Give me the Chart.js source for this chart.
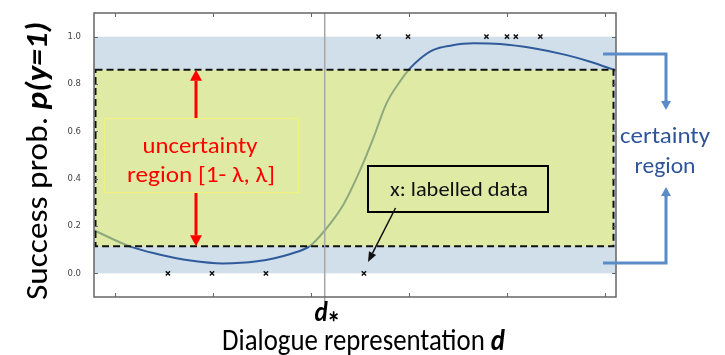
<!DOCTYPE html>
<html>
<head>
<meta charset="utf-8">
<script src="https://cdn.jsdelivr.net/npm/chart.js@4.4.1/dist/chart.umd.min.js"></script>
<style>
  html, body { margin: 0; padding: 0; background: #ffffff; }
  #wrap { width: 725px; height: 355px; position: relative; }
</style>
</head>
<body>
<div id="wrap"><canvas id="c" width="725" height="355"></canvas></div>
<script>
// ---- data ----
const curveX = [0.79, 1.15, 1.43, 1.77, 2.10, 2.45, 2.79, 2.99, 3.14, 3.33, 3.50, 3.64, 3.77, 3.91, 4.01, 4.11, 4.25, 4.42, 4.66, 4.93, 5.27, 5.61, 5.85, 6.11];
const curveY = [0.181, 0.114, 0.082, 0.054, 0.042, 0.051, 0.082, 0.116, 0.181, 0.29, 0.435, 0.576, 0.718, 0.812, 0.866, 0.906, 0.944, 0.962, 0.972, 0.969, 0.951, 0.922, 0.894, 0.857];
const labelledX = [1.54, 1.99, 2.54, 3.54, 3.69, 3.99, 4.79, 5.00, 5.09, 5.34];
const labelledY = [0, 0, 0, 0, 1, 1, 1, 1, 1, 1];
const xTicks = [1, 2, 3, 4, 5, 6];
const yTicks = [0.0, 0.2, 0.4, 0.6, 0.8, 1.0];
const xRange = [0.786, 6.112];
const yRange = [-0.1, 1.1];
const certaintyBand = [0.0, 1.0];
const lambdaHigh = 0.86;
const lambdaLow = 0.114;
const dStar = 3.14;

const FONT = 'Carlito, Lato, "Open Sans", sans-serif';

function arrow(ctx, x1, y1, x2, y2, color, width, headLen, headW) {
  const ang = Math.atan2(y2 - y1, x2 - x1);
  const bx = x2 - headLen * Math.cos(ang), by = y2 - headLen * Math.sin(ang);
  ctx.save();
  ctx.strokeStyle = color; ctx.fillStyle = color; ctx.lineWidth = width;
  ctx.beginPath(); ctx.moveTo(x1, y1); ctx.lineTo(bx, by); ctx.stroke();
  ctx.beginPath();
  ctx.moveTo(x2, y2);
  ctx.lineTo(bx + headW / 2 * Math.sin(ang), by - headW / 2 * Math.cos(ang));
  ctx.lineTo(bx - headW / 2 * Math.sin(ang), by + headW / 2 * Math.cos(ang));
  ctx.closePath(); ctx.fill();
  ctx.restore();
}

function runs(ctx, parts, cx, y, targetW) {
  let w = 0;
  parts.forEach(p => { ctx.font = p.f; w += ctx.measureText(p.t).width; });
  const s = targetW ? targetW / w : 1;
  ctx.save();
  ctx.translate(cx, y);
  ctx.scale(s, 1);
  let x = -w / 2;
  parts.forEach(p => {
    ctx.font = p.f; ctx.fillStyle = p.c || '#000';
    ctx.textBaseline = 'alphabetic'; ctx.textAlign = 'left';
    ctx.fillText(p.t, x, p.dy || 0);
    x += ctx.measureText(p.t).width;
  });
  ctx.restore();
}

const backdrop = {
  id: 'backdrop',
  beforeDatasetsDraw(chart) {
    const { ctx, chartArea: a, scales: { y } } = chart;
    ctx.save();
    ctx.fillStyle = '#d1dfea';
    const t = y.getPixelForValue(certaintyBand[1]), b = y.getPixelForValue(certaintyBand[0]);
    ctx.fillRect(a.left, t, a.right - a.left, b - t);
    ctx.restore();
  },
  afterDatasetsDraw(chart) {
    const { ctx, chartArea: a, scales: { x, y } } = chart;
    const t = y.getPixelForValue(lambdaHigh), b = y.getPixelForValue(lambdaLow);
    const l = a.left + 1.5, r = a.right - 2.5;
    ctx.save();
    ctx.fillStyle = 'rgba(237,247,96,0.5)';
    ctx.fillRect(l, t, r - l, b - t);
    ctx.strokeStyle = '#111'; ctx.lineWidth = 2; ctx.setLineDash([7, 4]);
    ctx.strokeRect(l, t, r - l, b - t);
    ctx.setLineDash([]);
    // d* line
    const dx = x.getPixelForValue(dStar);
    ctx.strokeStyle = '#a6a6a6'; ctx.lineWidth = 1.5;
    ctx.beginPath(); ctx.moveTo(dx, a.top); ctx.lineTo(dx, a.bottom + 5); ctx.stroke();
    // frame
    ctx.strokeStyle = '#666'; ctx.lineWidth = 1.5;
    ctx.strokeRect(a.left, a.top, a.right - a.left, a.bottom - a.top);
    // inward ticks
    ctx.lineWidth = 1; ctx.strokeStyle = '#666';
    xTicks.forEach(v => {
      const px = Math.round(x.getPixelForValue(v)) + 0.5;
      ctx.beginPath(); ctx.moveTo(px, a.bottom); ctx.lineTo(px, a.bottom - 4);
      ctx.moveTo(px, a.top); ctx.lineTo(px, a.top + 4); ctx.stroke();
    });
    yTicks.forEach(v => {
      const py = Math.round(y.getPixelForValue(v)) + 0.5;
      ctx.beginPath(); ctx.moveTo(a.left, py); ctx.lineTo(a.left + 4, py);
      ctx.moveTo(a.right, py); ctx.lineTo(a.right - 4, py); ctx.stroke();
    });
    ctx.restore();
  },
  afterDraw(chart) {
    const { ctx, scales: { x, y } } = chart;
    const yHi = y.getPixelForValue(lambdaHigh), yLo = y.getPixelForValue(lambdaLow);
    // uncertainty box
    ctx.save();
    ctx.strokeStyle = '#f2f27a'; ctx.lineWidth = 1;
    ctx.strokeRect(104.5, 118.5, 194, 74);
    runs(ctx, [{ t: 'uncertainty', f: '23px ' + FONT, c: '#ff0000' }], 200, 153, 115);
    runs(ctx, [{ t: 'region [1- λ, λ]', f: '23px ' + FONT, c: '#ff0000' }], 201, 182, 148);
    arrow(ctx, 196, 118, 196, yHi, '#ff0000', 3, 11, 12);
    arrow(ctx, 196, 193, 196, yLo, '#ff0000', 3, 11, 12);
    // labelled data box
    ctx.strokeStyle = '#000'; ctx.lineWidth = 2;
    ctx.strokeRect(368, 166, 180, 46);
    runs(ctx, [{ t: 'x: labelled data', f: '20px ' + FONT, c: '#111' }], 459, 196, 138);
    arrow(ctx, 395.5, 208, 368, 262, '#111', 1.5, 10, 8);
    // certainty bracket
    const bc = '#5b8cc8';
    ctx.strokeStyle = bc; ctx.lineWidth = 3; ctx.lineJoin = 'miter';
    ctx.beginPath(); ctx.moveTo(603, 54); ctx.lineTo(666, 54); ctx.lineTo(666, 102); ctx.stroke();
    arrow(ctx, 666, 100, 666, 110, bc, 3, 9, 10);
    ctx.beginPath(); ctx.moveTo(603, 263); ctx.lineTo(666, 263); ctx.lineTo(666, 195); ctx.stroke();
    arrow(ctx, 666, 197, 666, 187, bc, 3, 9, 10);
    runs(ctx, [{ t: 'certainty', f: '23px ' + FONT, c: '#2f5597' }], 665, 143, 90);
    runs(ctx, [{ t: 'region', f: '23px ' + FONT, c: '#2f5597' }], 665, 173, 61);
    // axis titles
    runs(ctx, [{ t: 'd', f: 'italic bold 28px ' + FONT, c: '#000' }, { t: '∗', f: 'bold 15px ' + FONT, c: '#000', dy: 0 }], 327, 321, 25);
    runs(ctx, [{ t: 'Dialogue representation ', f: '31px ' + FONT, c: '#000' }, { t: 'd', f: 'italic bold 31px ' + FONT, c: '#000' }], 363.5, 350, 283);
    ctx.save();
    ctx.translate(47, 161);
    ctx.rotate(-Math.PI / 2);
    runs(ctx, [{ t: 'Success prob. ', f: '31px ' + FONT, c: '#000' }, { t: 'p(y=1)', f: 'italic bold 31px ' + FONT, c: '#000' }], 0, 0, 278);
    ctx.restore();
    ctx.restore();
  }
};

new Chart(document.getElementById('c'), {
  type: 'scatter',
  data: {
    datasets: [
      {
        type: 'line',
        data: curveX.map((v, i) => ({ x: v, y: curveY[i] })),
        borderColor: '#2f5b9b', borderWidth: 2, pointRadius: 0,
        cubicInterpolationMode: 'monotone', fill: false
      },
      {
        data: labelledX.map((v, i) => ({ x: v, y: labelledY[i] })),
        pointStyle: 'crossRot', pointRadius: 3, borderColor: '#111', borderWidth: 1.5,
        backgroundColor: '#111'
      }
    ]
  },
  options: {
    responsive: false, animation: false, devicePixelRatio: 1,
    layout: { padding: { left: 0, top: 13, right: 109, bottom: 58 } },
    plugins: { legend: { display: false }, tooltip: { enabled: false } },
    scales: {
      x: {
        type: 'linear', min: xRange[0], max: xRange[1], display: false
      },
      y: {
        type: 'linear', min: yRange[0], max: yRange[1],
        grid: { display: false, drawTicks: false }, border: { display: false },
        afterBuildTicks: s => { s.ticks = yTicks.map(v => ({ value: v })); },
        afterFit: s => { s.width = 94; s.paddingTop = 0; s.paddingBottom = 0; },
        ticks: {
          padding: 13, color: '#444',
          font: { family: 'DejaVu Sans', size: 8.5 },
          callback: v => Number(v).toFixed(1)
        }
      }
    }
  },
  plugins: [backdrop]
});
</script>
</body>
</html>
